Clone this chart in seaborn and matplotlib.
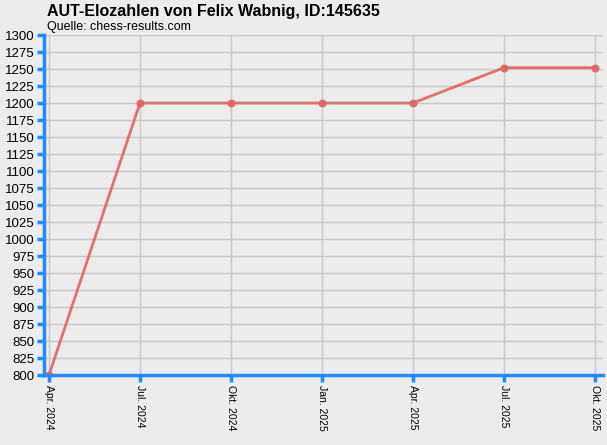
import numpy as np
import pandas as pd
import matplotlib
matplotlib.use('Agg')
import matplotlib.pyplot as plt
import seaborn as sns

# Daten
monate = ['Apr. 2024', 'Jul. 2024', 'Okt. 2024', 'Jan. 2025', 'Apr. 2025', 'Jul. 2025', 'Okt. 2025']
elo = [800, 1200, 1200, 1200, 1200, 1252, 1252]
y_ticks = list(range(800, 1301, 25))

df = pd.DataFrame({'pos': np.arange(len(monate)), 'elo': elo})

sns.set_style('whitegrid')
plt.rcParams['font.family'] = ['Liberation Sans', 'DejaVu Sans']

bg = '#ececec'
blau = '#1e8cff'
linie = '#e06464'

fig = plt.figure(figsize=(6.07, 4.45), dpi=100, facecolor=bg)
ax = fig.add_axes([0.0725, 0.1573, 0.9209, 0.764])
ax.set_facecolor(bg)

sns.lineplot(data=df, x='pos', y='elo', ax=ax, color=linie, linewidth=2,
             marker='o', markersize=5, markeredgecolor=linie, alpha=0.9)

ax.set_xlim(-0.055, 6.088)
ax.set_ylim(800, 1300)
ax.set_xticks(df['pos'])
ax.set_xticklabels(monate, rotation=270, fontsize=7.5, color='black')
ax.set_yticks(y_ticks)
ax.set_yticklabels([str(v) for v in y_ticks], fontsize=9.5, color='black')
ax.set_xlabel('')
ax.set_ylabel('')

ax.grid(True, color='#c8c8c8', linewidth=1)
for s in ['top', 'right']:
    ax.spines[s].set_visible(False)
for s in ['left', 'bottom']:
    ax.spines[s].set_color(blau)
    ax.spines[s].set_linewidth(2.5)
ax.tick_params(axis='both', left=True, bottom=True, colors=blau, length=5, width=2.5,
               labelcolor='black', pad=2, direction='out')

fig.text(0.077, 0.99, 'AUT-Elozahlen von Felix Wabnig, ID:145635', fontsize=11.5,
         fontweight='bold', va='top', ha='left', color='black')
fig.text(0.077, 0.953, 'Quelle: chess-results.com', fontsize=9, va='top', ha='left',
         color='black')

plt.savefig('out.png', dpi=100, facecolor=bg)
